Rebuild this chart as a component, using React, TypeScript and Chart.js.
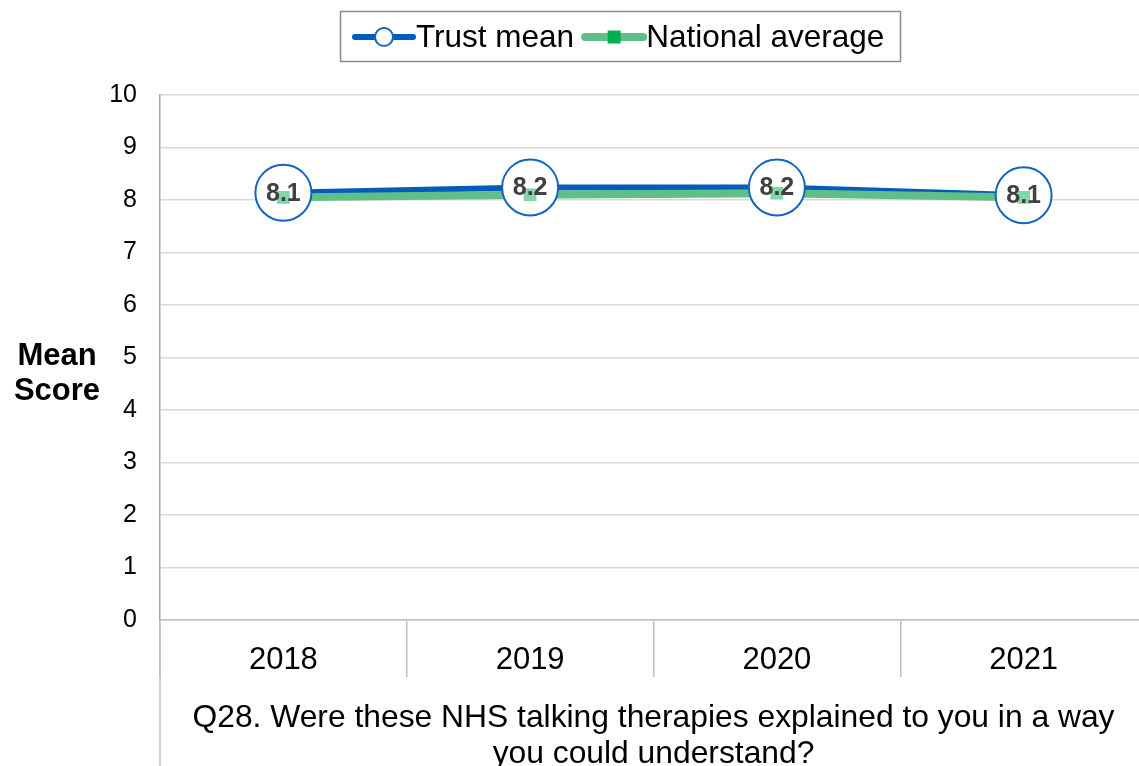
import React, { useEffect, useRef } from "react";
import { Chart, registerables } from "chart.js";

Chart.register(...registerables);

const categories = ["2018", "2019", "2020", "2021"];
const trustMean = [8.14, 8.24, 8.24, 8.09];
const nationalAverage = [8.05, 8.1, 8.13, 8.05];
const yMin = 0;
const yMax = 10;
const yStep = 1;
const xTitle = [
  "Q28. Were these NHS talking therapies explained to you in a way",
  "you could understand?",
];
const yTitle = ["Mean", "Score"];
const legendLabels = ["Trust mean", "National average"];

const FONT = "'Liberation Sans', Arial, Helvetica, sans-serif";
const PAD_RIGHT = 40;
const PLOT_LEFT = 160;
const PLOT_RIGHT = 1147;
const PLOT_TOP = 95;
const PLOT_BOTTOM = 620;
const W = PLOT_RIGHT + PAD_RIGHT;
const H = 775;

const BLUE = "#005EB8";
const CIRCLE_BLUE = "#1565C0";
const GREEN_LINE = "#5FBF87";
const GREEN_MARK = "#82D6A8";
const GREEN_LEGEND = "#00B050";

const extrasPlugin = {
  id: "extras",
  afterDatasetsDraw(chart: any) {
    const ctx = chart.ctx;
    const meta = chart.getDatasetMeta(1);
    ctx.save();
    ctx.font = `bold 25px ${FONT}`;
    ctx.fillStyle = "#404040";
    ctx.textAlign = "center";
    ctx.textBaseline = "middle";
    meta.data.forEach((pt: any, i: number) => {
      ctx.fillText(trustMean[i].toFixed(1), pt.x, pt.y + 1);
    });
    ctx.restore();
  },
  afterDraw(chart: any) {
    const ctx = chart.ctx;
    const area = chart.chartArea;
    ctx.save();
    // extended left axis line
    ctx.strokeStyle = "#bfbfbf";
    ctx.lineWidth = 1.5;
    ctx.beginPath();
    ctx.moveTo(area.left, area.bottom);
    ctx.lineTo(area.left, chart.height);
    ctx.stroke();

    // y title
    ctx.font = `bold 31px ${FONT}`;
    ctx.fillStyle = "#000";
    ctx.textAlign = "center";
    ctx.textBaseline = "middle";
    ctx.fillText(yTitle[0], 57, 356);
    ctx.fillText(yTitle[1], 57, 391);

    // legend
    const boxX = 340.5, boxY = 11.5, boxW = 560, boxH = 50;
    ctx.strokeStyle = "#8c8c8c";
    ctx.lineWidth = 1.5;
    ctx.strokeRect(boxX, boxY, boxW, boxH);
    const cy = 37;
    const ty = 38.5;
    ctx.font = `31.5px ${FONT}`;
    ctx.textAlign = "left";
    let x = 355;
    // Trust mean
    ctx.lineCap = "round";
    ctx.strokeStyle = BLUE;
    ctx.lineWidth = 6;
    ctx.beginPath();
    ctx.moveTo(x, cy);
    ctx.lineTo(x + 58, cy);
    ctx.stroke();
    ctx.beginPath();
    ctx.arc(x + 29, cy, 9, 0, Math.PI * 2);
    ctx.fillStyle = "#fff";
    ctx.fill();
    ctx.strokeStyle = CIRCLE_BLUE;
    ctx.lineWidth = 2;
    ctx.stroke();
    ctx.fillStyle = "#000";
    ctx.fillText(legendLabels[0], x + 61, ty);
    x = x + 61 + ctx.measureText(legendLabels[0]).width + 11;
    // National average
    ctx.strokeStyle = GREEN_LINE;
    ctx.lineWidth = 8;
    ctx.beginPath();
    ctx.moveTo(x, cy);
    ctx.lineTo(x + 58, cy);
    ctx.stroke();
    ctx.fillStyle = GREEN_LEGEND;
    ctx.fillRect(x + 29 - 6.5, cy - 6.5, 13, 13);
    ctx.fillStyle = "#000";
    ctx.fillText(legendLabels[1], x + 61, ty);
    ctx.restore();
  },
};

export default function App() {
  const ref = useRef<HTMLCanvasElement | null>(null);

  useEffect(() => {
    if (!ref.current) return;
    const chart = new Chart(ref.current, {
      type: "line",
      data: {
        labels: categories,
        datasets: [
          {
            label: "National average points",
            data: nationalAverage,
            showLine: false,
            pointStyle: "rect",
            pointRadius: 9,
            pointBackgroundColor: GREEN_MARK,
            pointBorderWidth: 0,
            pointBorderColor: GREEN_MARK,
            order: 0,
            clip: false,
          },
          {
            label: "Trust mean points",
            data: trustMean,
            showLine: false,
            pointStyle: "circle",
            pointRadius: 28,
            pointBackgroundColor: "#ffffff",
            pointBorderColor: CIRCLE_BLUE,
            pointBorderWidth: 2,
            order: 1,
            clip: false,
          },
          {
            label: legendLabels[1],
            data: nationalAverage,
            borderColor: GREEN_LINE,
            borderWidth: 8,
            pointRadius: 0,
            tension: 0,
            order: 2,
            clip: false,
          },
          {
            label: legendLabels[0],
            data: trustMean,
            borderColor: BLUE,
            borderWidth: 6,
            pointRadius: 0,
            tension: 0,
            order: 3,
            clip: false,
          },
        ],
      },
      options: {
        responsive: false,
        animation: false,
        events: [],
        layout: {
          padding: { top: PLOT_TOP, left: 0, right: PAD_RIGHT, bottom: 0 },
        },
        plugins: {
          legend: { display: false },
          tooltip: { enabled: false },
        },
        scales: {
          x: {
            type: "category",
            offset: true,
            grid: {
              offset: true,
              drawOnChartArea: false,
              drawTicks: true,
              tickLength: 57,
              tickColor: "#bfbfbf",
              lineWidth: 1.5,
            },
            border: { color: "#bfbfbf", width: 1.5 },
            ticks: {
              font: { family: FONT, size: 31 },
              color: "#000",
              padding: -35,
              maxRotation: 0,
            },
            title: {
              display: true,
              text: xTitle,
              font: { family: FONT, size: 31.8, lineHeight: "36px" },
              color: "#000",
              padding: { top: 0, bottom: 3 },
            },
            afterFit: (s: any) => {
              s.height = H - PLOT_BOTTOM;
            },
          },
          y: {
            min: yMin,
            max: yMax,
            ticks: {
              stepSize: yStep,
              font: { family: FONT, size: 25 },
              color: "#000",
              padding: 23,
            },
            grid: { color: "#d9d9d9", lineWidth: 1.5, drawTicks: false },
            border: { color: "#a6a6a6", width: 1.5 },
            afterFit: (s: any) => {
              s.width = PLOT_LEFT;
            },
          },
        },
      },
      plugins: [extrasPlugin],
    });
    return () => chart.destroy();
  }, []);

  return (
    <div
      style={{
        position: "absolute",
        left: 0,
        top: 0,
        width: 1139,
        height: 766,
        overflow: "hidden",
        background: "#fff",
      }}
    >
      <canvas ref={ref} width={W} height={H} style={{ display: "block" }} />
    </div>
  );
}
